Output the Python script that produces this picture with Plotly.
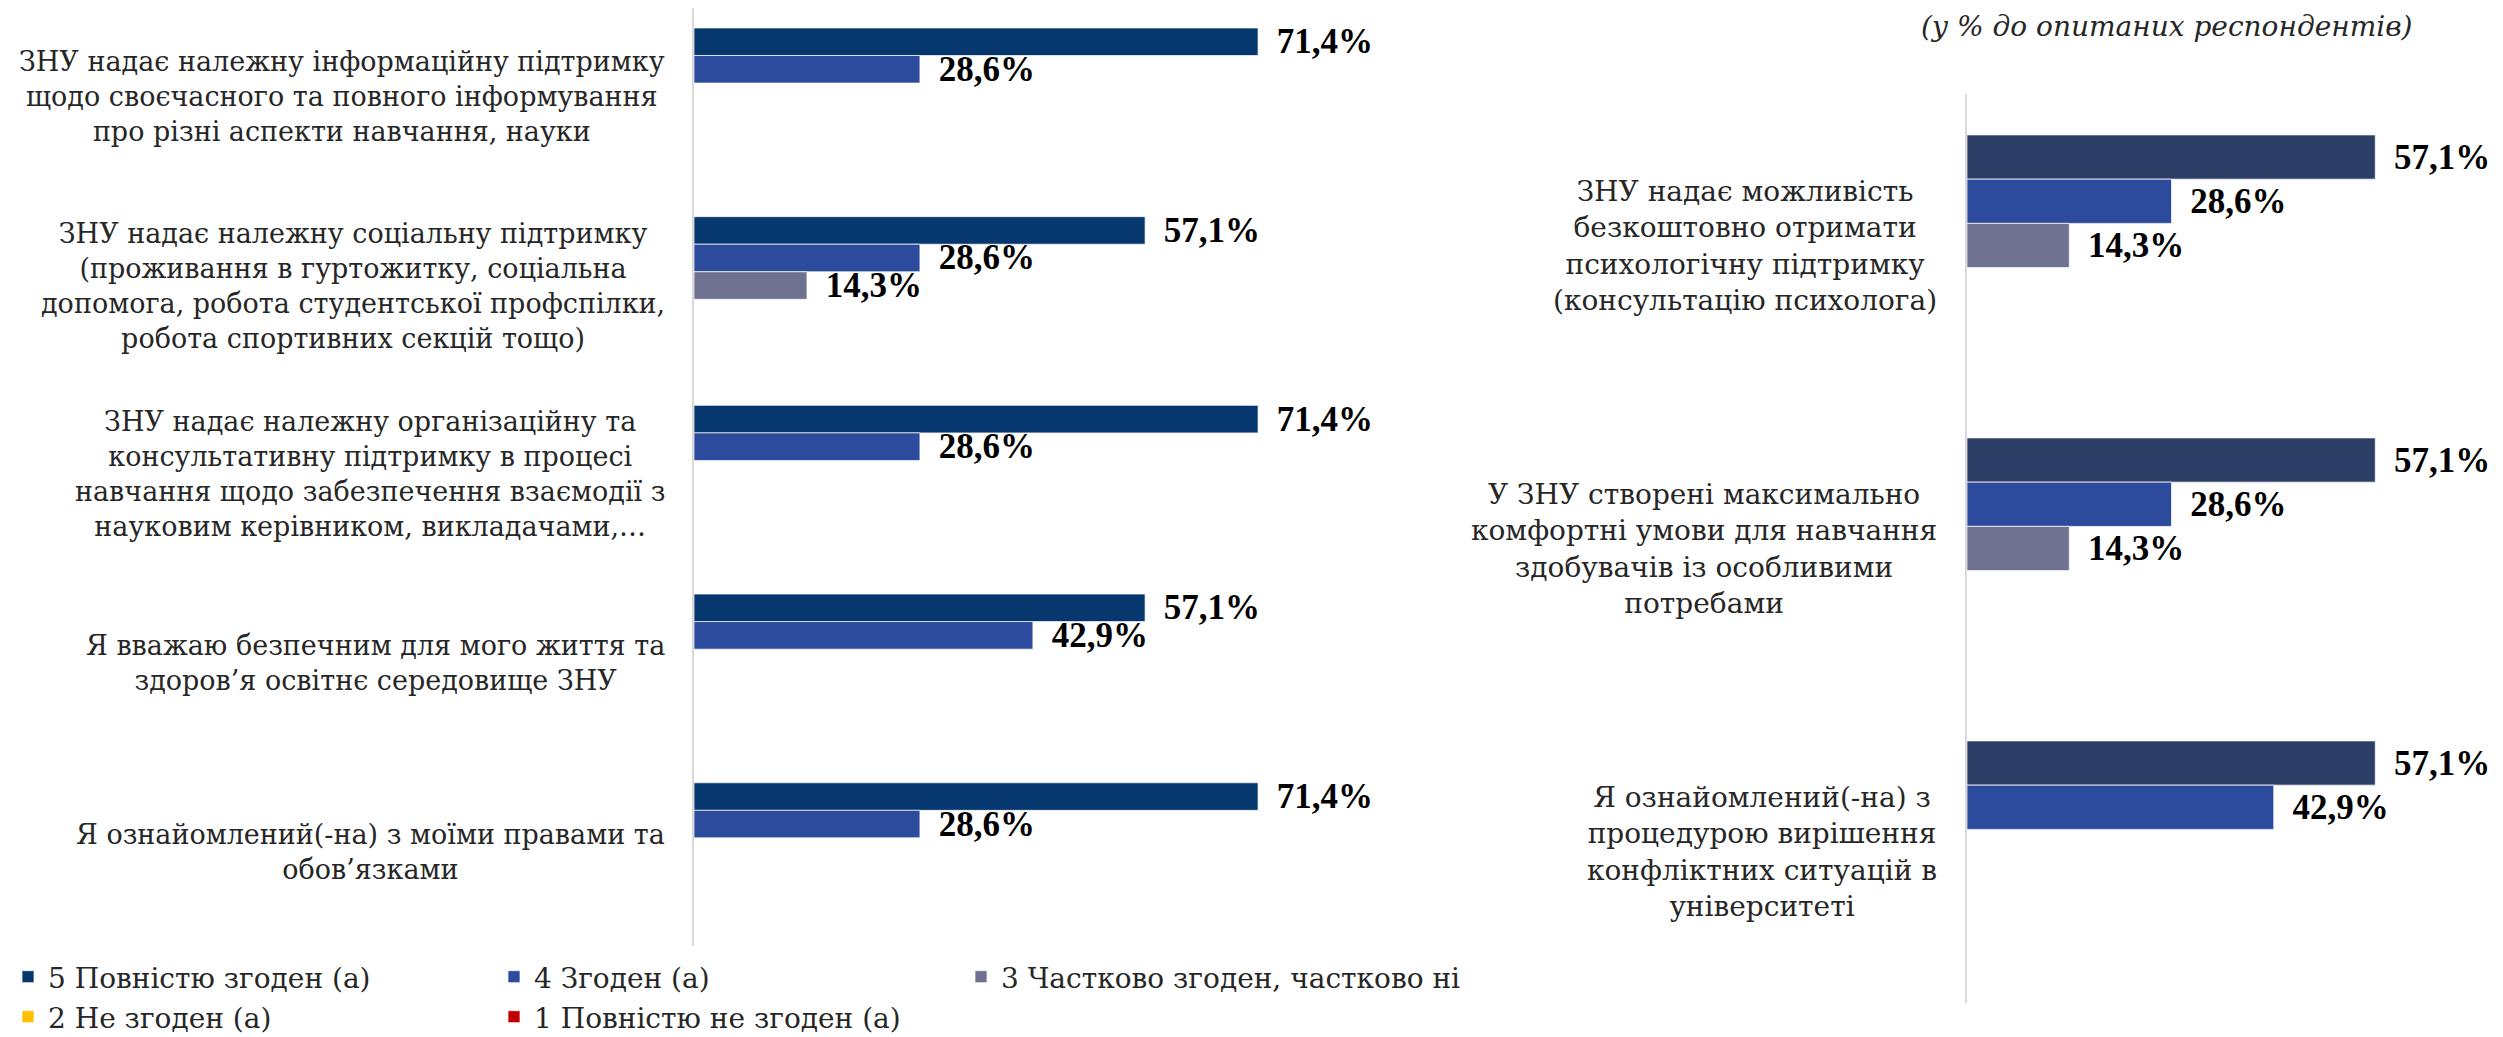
import plotly.graph_objects as go

# ---------------- data ----------------
series_names = ["5 Повністю згоден (а)", "4 Згоден (а)", "3 Частково згоден, частково ні",
                "2 Не згоден (а)", "1 Повністю не згоден (а)"]

left_categories = [
    "ЗНУ надає належну інформаційну підтримку<br>щодо своєчасного та повного інформування<br>про різні аспекти навчання, науки",
    "ЗНУ надає належну соціальну підтримку<br>(проживання в гуртожитку, соціальна<br>допомога, робота студентської профспілки,<br>робота спортивних секцій тощо)",
    "ЗНУ надає належну організаційну та<br>консультативну підтримку в процесі<br>навчання щодо забезпечення взаємодії з<br>науковим керівником, викладачами,…",
    "Я вважаю безпечним для мого життя та<br>здоров’я освітнє середовище ЗНУ",
    "Я ознайомлений(-на) з моїми правами та<br>обов’язками",
]
left_5 = [71.4, 57.1, 71.4, 57.1, 71.4]
left_4 = [28.6, 28.6, 28.6, 42.9, 28.6]
left_3 = [0, 14.3, 0, 0, 0]
left_2 = [0, 0, 0, 0, 0]
left_1 = [0, 0, 0, 0, 0]

right_categories = [
    "ЗНУ надає можливість<br>безкоштовно отримати<br>психологічну підтримку<br>(консультацію психолога)",
    "У ЗНУ створені максимально<br>комфортні умови для навчання<br>здобувачів із особливими<br>потребами",
    "Я ознайомлений(-на) з<br>процедурою вирішення<br>конфліктних ситуацій в<br>університеті",
]
right_5 = [57.1, 57.1, 57.1]
right_4 = [28.6, 28.6, 42.9]
right_3 = [14.3, 14.3, 0]
right_2 = [0, 0, 0]
right_1 = [0, 0, 0]

subtitle = "(у % до опитаних респондентів)"

# ---------------- layout helpers (page body has an 8px margin) ----------------
OFF = 8
W, H = 2495, 1029


def px(xpage):
    return (xpage - OFF) / W


def py(ypage):
    return 1 - (ypage - OFF) / H


left_colors = ["#06376E", "#2C4B9C", "#6E718F", "#FFC000", "#C00000"]
right_colors = ["#2C3E66", "#2C4B9C", "#6E718F", "#FFC000", "#C00000"]
legend_widths = [441, 422, 530, 441, 441]
label_font = "DejaVu Serif"
value_font = "Liberation Serif"
text_color = "#262626"


def fmt(v):
    return ("\u00a0\u2009" + f"{v:.1f}".replace(".", ",") + "%") if v > 0 else ""


fig = go.Figure()

left_series = [left_5, left_4, left_3, left_2, left_1]
right_series = [right_5, right_4, right_3, right_2, right_1]

for i, (name, vals) in enumerate(zip(series_names, left_series)):
    fig.add_trace(go.Bar(
        y=left_categories, x=vals, orientation="h", name=name,
        marker=dict(color=left_colors[i], line=dict(color="rgba(255,255,255,0.7)", width=1)),
        text=[fmt(v) for v in vals], textposition="outside", cliponaxis=False,
        constraintext="none",
        outsidetextfont=dict(family=value_font, size=35, color="#000000", weight="bold"),
        xaxis="x", yaxis="y", legend="legend" if i < 3 else "legend2",
        legendwidth=legend_widths[i],
        hoverinfo="skip",
    ))

for i, (name, vals) in enumerate(zip(series_names, right_series)):
    fig.add_trace(go.Bar(
        y=right_categories, x=vals, orientation="h", name=name, showlegend=False,
        marker=dict(color=right_colors[i], line=dict(color="rgba(255,255,255,0.7)", width=1)),
        text=[fmt(v) for v in vals], textposition="outside", cliponaxis=False,
        constraintext="none",
        outsidetextfont=dict(family=value_font, size=35, color="#000000", weight="bold"),
        xaxis="x2", yaxis="y2",
        hoverinfo="skip",
    ))

annotations = []
for c in left_categories:
    annotations.append(dict(
        text=c, xref="paper", x=px(667), xanchor="right", yref="y", y=c, yanchor="middle",
        align="center", showarrow=False, font=dict(family=label_font, size=27, color=text_color)))
for c in right_categories:
    annotations.append(dict(
        text=c, xref="paper", x=px(1939), xanchor="right", yref="y2", y=c, yanchor="middle",
        align="center", showarrow=False, font=dict(family=label_font, size=28, color=text_color)))
annotations.append(dict(
    text=subtitle, xref="paper", yref="paper", x=px(2166), y=py(27),
    xanchor="center", yanchor="middle", showarrow=False,
    font=dict(family=label_font, size=28, color=text_color, style="italic")))

left_cat_px = 188.7
left_top_extra = (OFF - 2.5) / left_cat_px

fig.update_layout(
    width=W, height=H,
    margin=dict(l=0, r=0, t=0, b=0, autoexpand=False),
    paper_bgcolor="white", plot_bgcolor="white",
    barmode="group", bargap=0.27, bargroupgap=0,
    separators=",.",
    annotations=annotations,
    xaxis=dict(domain=[px(694), px(1380)], range=[0, (1380 - 694) / 7.9], visible=False, fixedrange=True),
    yaxis=dict(domain=[py(946), 1.0], range=[len(left_categories) - 0.5, -0.5 + left_top_extra],
               showticklabels=False, showline=True, linecolor="#D9D9D9", linewidth=2,
               ticks="", showgrid=False, categoryorder="array", categoryarray=left_categories),
    xaxis2=dict(domain=[px(1967), 1.0], range=[0, (2503 - 1967) / 7.15], visible=False, fixedrange=True),
    yaxis2=dict(domain=[py(1003), py(94)], autorange="reversed", showticklabels=False,
                showline=True, linecolor="#D9D9D9", linewidth=2, ticks="", showgrid=False,
                anchor="x2", categoryorder="array", categoryarray=right_categories),
    legend=dict(orientation="h", x=0, xanchor="left", y=py(977), yanchor="middle",
                entrywidth=441, entrywidthmode="pixels", traceorder="normal",
                font=dict(family=label_font, size=28, color=text_color), bgcolor="rgba(0,0,0,0)"),
    legend2=dict(orientation="h", x=0, xanchor="left", y=py(1017), yanchor="middle",
                 entrywidth=441, entrywidthmode="pixels", traceorder="normal",
                 font=dict(family=label_font, size=28, color=text_color), bgcolor="rgba(0,0,0,0)"),
)

fig.write_html("out.html")
